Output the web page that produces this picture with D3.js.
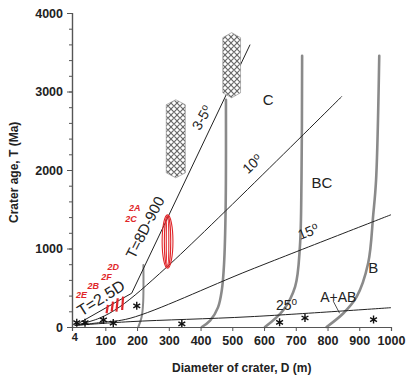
<!DOCTYPE html>
<html>
<head>
<meta charset="utf-8">
<script src="https://cdn.jsdelivr.net/npm/d3@7"></script>
<style>
  html, body { margin: 0; padding: 0; background: #fff; }
  svg { display: block; font-family: "Liberation Sans", Arial, sans-serif; }
  .fan { fill: none; stroke: #222; stroke-width: 1; }
  .zone { fill: none; stroke: #8a8a8a; stroke-width: 2.6; stroke-linecap: round; }
  .lbl { font-size: 14px; fill: #222; }
  .red { font-size: 9px; font-weight: bold; font-style: italic; fill: #e0262a; }
</style>
</head>
<body>
<div id="chart"></div>
<script>
// axis ticks
const xTickValues = [100, 200, 300, 400, 500, 600, 700, 800, 900, 1000];
const yTickValues = [0, 1000, 2000, 3000, 4000];
const yMinorTicks = d3.range(0, 4001, 200);

// T = 2.5D, then T = 8D - 900 (3-5 deg)
const steepLine = [[4, 20], [183, 430], [556, 3597]];
// slope lines [D, T]
const line10 = [[4, 20], [80, 110], [146, 259], [294, 765], [845, 2937]];
const line15 = [[4, 20], [90, 60], [178, 111], [556, 727], [1000, 1430]];
const line25 = [[4, 20], [178, 68], [556, 131], [1000, 246]];

// grey zone boundaries [D, T]
const zone1 = [[204, 0], [214, 120], [219, 300], [220, 790]];
const zone2 = [[404, 0], [430, 80], [455, 250], [467, 470], [474, 800], [479, 1500], [480, 2895]];
const zone3 = [[603, 0], [661, 217], [698, 514], [713, 1024], [718, 1876], [720, 3456]];
const zone4 = [[797, 0], [850, 175], [892, 386], [928, 812], [944, 1429], [953, 1876], [963, 3456]];

// stars (measured craters) [D, T]
const stars = [[10, 55], [36, 55], [94, 90], [125, 50], [199, 270], [341, 40], [649, 60], [729, 115], [945, 95]];

// hatched columns [centre D, half width D, T bottom, T top]
const columns = [[322, 30, 1900, 2895], [498, 28, 2920, 3750]];

// red ellipse [D, T, rD, rT]
const ellipses = [[296, 1088, 17, 340], [296, 1088, 10, 325], [296, 1088, 4, 305]];
// red bars [D bottom, T bottom, D top, T top]
const redBars = [[104, 175, 108, 281], [120, 195, 124, 323], [135, 195, 139, 366], [153, 217, 156, 386]];
// red sample labels
const redLabels = [["2A", 193, 1514], ["2C", 181, 1374], ["2D", 125, 761], ["2F", 104, 634], ["2B", 62, 523], ["2E", 25, 408]];

// black annotations [text, D, T, angle]
const notes = [
  ["T=2.5D", 86, 370, -32, 16],
  ["T=8D-900", 225, 1269, -63, 15],
  ["C", 613, 2895, 0, 15],
  ["BC", 782, 1833, 0, 15],
  ["B", 944, 749, 0, 15],
  ["A+AB", 834, 386, 0, 14]
];
const degNotes = [
  ["3-5", 404, 2666, -60],
  ["10", 563, 2079, -43],
  ["15", 739, 1216, -22],
  ["25", 671, 281, 0]
];

const margin = { top: 13, right: 15, bottom: 51, left: 72 };
const width = 406 - margin.left - margin.right;
const height = 378 - margin.top - margin.bottom;

const svg = d3.select('#chart').append('svg')
  .attr('width', 406)
  .attr('height', 378)
  .append('g')
  .attr('transform', 'translate(' + margin.left + ',' + margin.top + ')');

const x = d3.scaleLinear().domain([-5, 1000]).range([0, width]);
const y = d3.scaleLinear().domain([0, 4000]).range([height, 0]);

// hatch pattern (diamond mesh)
const pat = svg.append('defs').append('pattern')
  .attr('id', 'mesh')
  .attr('patternUnits', 'userSpaceOnUse')
  .attr('width', 6).attr('height', 6);
pat.append('path')
  .attr('d', 'M0,3L3,0L6,3L3,6Z')
  .attr('stroke', '#6a6a6a').attr('stroke-width', 1.1).attr('fill', 'none');

const lineGen = d3.line()
  .x(d => x(d[0]))
  .y(d => y(d[1]));
const smooth = d3.line()
  .x(d => x(d[0]))
  .y(d => y(d[1]))
  .curve(d3.curveCatmullRom.alpha(0.5));

// grey zone curves
[zone1, zone2, zone3, zone4].forEach((z, i) => {
  svg.append('path')
    .datum(z)
    .attr('class', 'zone')
    .style('stroke-width', i === 0 ? 2 : 2.6)
    .attr('d', smooth);
});

// slope lines
svg.append('path').datum(steepLine).attr('class', 'fan').attr('d', lineGen);
[line10, line15, line25].forEach(l => {
  svg.append('path').datum(l).attr('class', 'fan').attr('d', smooth);
});

// hatched columns
columns.forEach(c => {
  const l = x(c[0] - c[1]), r = x(c[0] + c[1]);
  const b = y(c[2]), t = y(c[3]);
  const cx = (l + r) / 2;
  const pts = [[cx, t], [r, t + 5], [r, b - 5], [cx, b], [l, b - 5], [l, t + 5]];
  svg.append('path')
    .attr('d', 'M' + pts.join('L') + 'Z')
    .attr('fill', '#fff')
    .attr('stroke', 'none');
  svg.append('path')
    .attr('d', 'M' + pts.join('L') + 'Z')
    .attr('fill', 'url(#mesh)')
    .attr('stroke', '#888')
    .attr('stroke-width', 0.6);
});

// red ellipses
svg.selectAll('.ell').data(ellipses).enter().append('ellipse')
  .attr('cx', d => x(d[0]))
  .attr('cy', d => y(d[1]))
  .attr('rx', d => x(d[0] + d[2]) - x(d[0]))
  .attr('ry', d => y(d[1] - d[3]) - y(d[1]))
  .attr('fill', 'none')
  .attr('stroke', '#e0262a')
  .attr('stroke-width', 1.1);

// red bars
svg.selectAll('.bar').data(redBars).enter().append('line')
  .attr('x1', d => x(d[0])).attr('y1', d => y(d[1]))
  .attr('x2', d => x(d[2])).attr('y2', d => y(d[3]))
  .attr('stroke', '#e0262a')
  .attr('stroke-width', 2.2);

svg.selectAll('.red').data(redLabels).enter().append('text')
  .attr('class', 'red')
  .attr('x', d => x(d[1]))
  .attr('y', d => y(d[2]))
  .attr('text-anchor', 'middle')
  .attr('dy', '0.35em')
  .text(d => d[0]);

// stars
svg.selectAll('.star').data(stars).enter().append('path')
  .attr('transform', d => 'translate(' + x(d[0]) + ',' + y(d[1]) + ')')
  .attr('d', d3.symbol(d3.symbolAsterisk, 44))
  .attr('fill', 'none')
  .attr('stroke', '#111')
  .attr('stroke-width', 1.4);

// pointer from A+AB to the curve
svg.append('line')
  .attr('x1', x(818)).attr('y1', y(330))
  .attr('x2', x(838)).attr('y2', y(175))
  .attr('stroke', '#222').attr('stroke-width', 0.8);

// annotations
svg.selectAll('.note').data(notes).enter().append('text')
  .attr('class', 'lbl')
  .style('font-size', d => d[4] + 'px')
  .attr('text-anchor', 'middle')
  .attr('dy', '0.35em')
  .attr('transform', d => 'translate(' + x(d[1]) + ',' + y(d[2]) + ') rotate(' + d[3] + ')')
  .text(d => d[0]);

const deg = svg.selectAll('.deg').data(degNotes).enter().append('text')
  .attr('class', 'lbl')
  .style('font-size', '14px')
  .attr('text-anchor', 'middle')
  .attr('dy', '0.35em')
  .attr('transform', d => 'translate(' + x(d[1]) + ',' + y(d[2]) + ') rotate(' + d[3] + ')');
deg.append('tspan').text(d => d[0]);
deg.append('tspan').attr('dy', '-0.45em').style('font-size', '10px').text('o');

// axes
svg.append('g')
  .call(d3.axisLeft(y).tickValues(yTickValues).tickFormat(d3.format('d')).tickSize(5).tickPadding(4));
svg.append('g')
  .call(d3.axisLeft(y).tickValues(yMinorTicks).tickSize(3).tickFormat(''));
svg.append('g')
  .attr('transform', 'translate(0,' + height + ')')
  .call(d3.axisBottom(x).tickValues(xTickValues).tickFormat(d3.format('d')).tickSize(4).tickPadding(5));

svg.selectAll('.domain').attr('stroke', '#555').attr('stroke-width', 1.2);
svg.selectAll('.tick line').attr('stroke', '#555');
svg.selectAll('.tick text')
  .style('font-size', '12.5px')
  .style('font-weight', 'bold')
  .style('font-family', '"Liberation Sans", Arial, sans-serif')
  .attr('fill', '#222');

// the "4" at the left end of the D axis
svg.append('text')
  .attr('x', x(4)).attr('y', height + 14)
  .attr('text-anchor', 'middle')
  .style('font-size', '11px').style('font-weight', 'bold').attr('fill', '#222')
  .text('4');

// axis titles
svg.append('text')
  .attr('x', x(530)).attr('y', height + 45)
  .attr('text-anchor', 'middle')
  .style('font-size', '12px').style('font-weight', 'bold').attr('fill', '#222')
  .text('Diameter of crater, D (m)');
svg.append('text')
  .attr('transform', 'translate(' + (-54) + ',' + y(1970) + ') rotate(-90)')
  .attr('text-anchor', 'middle')
  .style('font-size', '12px').style('font-weight', 'bold').attr('fill', '#222')
  .text('Crater age, T (Ma)');
</script>
</body>
</html>
